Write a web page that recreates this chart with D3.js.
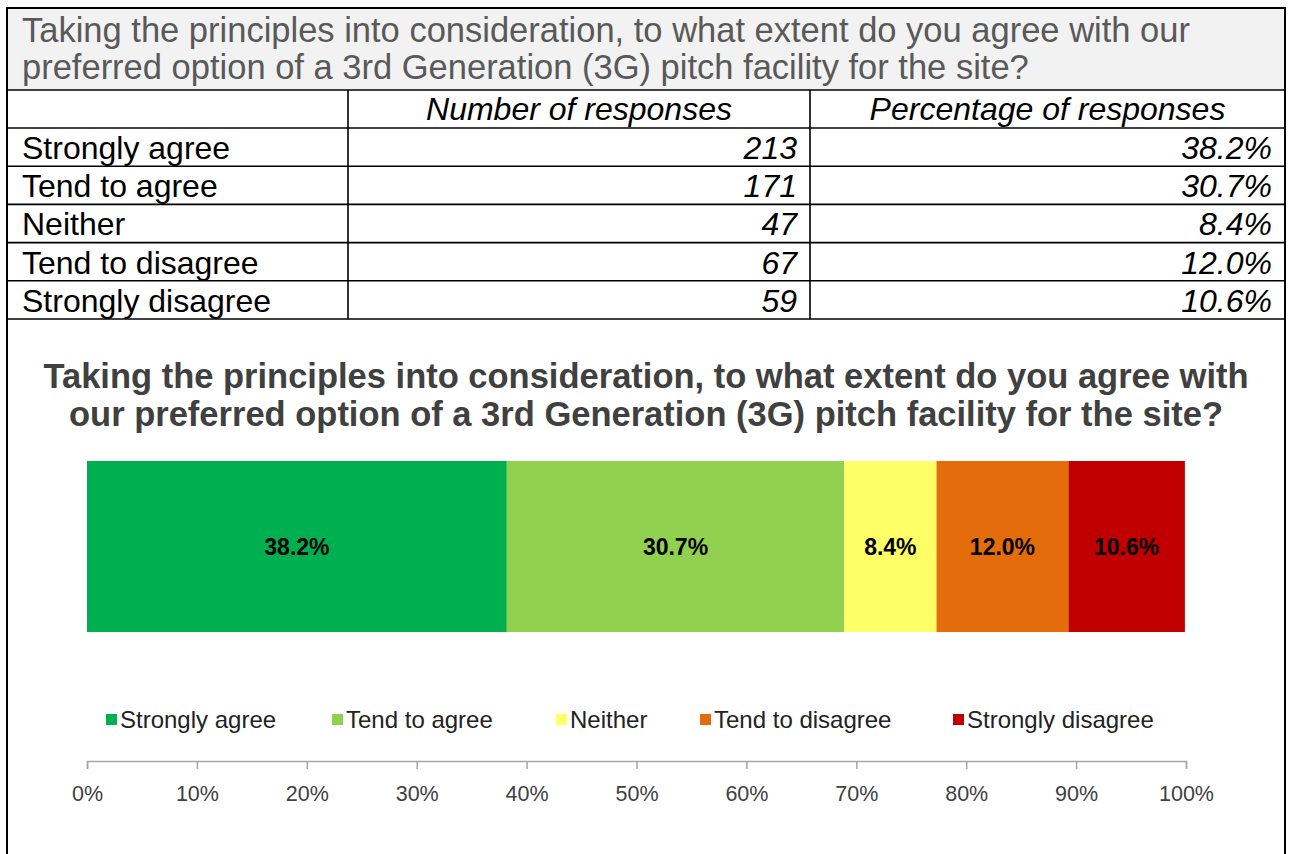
<!DOCTYPE html>
<html>
<head>
<meta charset="utf-8">
<script src="https://cdn.jsdelivr.net/npm/d3@7"></script>
<style>
  body { margin: 0; background: #fff; }
  svg { display: block; font-family: "Liberation Sans", Arial, sans-serif; }
</style>
</head>
<body>
<svg id="chart" width="1291" height="854"></svg>
<script>
// Survey answers, counts and shares as shown in the table
var categories = ['Strongly agree', 'Tend to agree', 'Neither', 'Tend to disagree', 'Strongly disagree'];
var counts = [213, 171, 47, 67, 59];
var percents = [38.2, 30.7, 8.4, 12.0, 10.6];
var colours = ['#00b050', '#92d050', '#ffff66', '#e46c0a', '#c00000'];
var axisTicks = [0, 0.1, 0.2, 0.3, 0.4, 0.5, 0.6, 0.7, 0.8, 0.9, 1];

var question = [
  'Taking the principles into consideration, to what extent do you agree with our',
  'preferred option of a 3rd Generation (3G) pitch facility for the site?'
];
var chartTitle = [
  'Taking the principles into consideration, to what extent do you agree with',
  'our preferred option of a 3rd Generation (3G) pitch facility for the site?'
];
var headers = ['Number of responses', 'Percentage of responses'];

var svg = d3.select('#chart');

/**
 * Table at the top of the page
 */
var left = 7, right = 1285, colA = 348, colB = 810;
var bandTop = 8, bandBottom = 90, headBottom = 128, rowH = 38.2;

var table = svg.append('g');

// grey question band
table.append('rect')
  .attr('x', left).attr('y', bandTop)
  .attr('width', right - left).attr('height', bandBottom - bandTop)
  .attr('fill', '#f2f2f2');

table.selectAll('text.q')
  .data(question)
  .enter().append('text')
  .attr('class', 'q')
  .attr('x', 22)
  .attr('y', function(d, i) { return 42 + i * 37; })
  .attr('font-size', 34.5)
  .attr('fill', '#595959')
  .text(function(d) { return d; });

// header row
table.selectAll('text.h')
  .data(headers)
  .enter().append('text')
  .attr('class', 'h')
  .attr('x', function(d, i) { return i === 0 ? (colA + colB) / 2 : (colB + right) / 2; })
  .attr('y', 120)
  .attr('text-anchor', 'middle')
  .attr('font-size', 32)
  .attr('font-style', 'italic')
  .text(function(d) { return d; });

var rowY = d3.scaleBand()
  .domain(categories)
  .range([headBottom, headBottom + rowH * categories.length]);

var rows = table.selectAll('g.row')
  .data(categories)
  .enter().append('g')
  .attr('class', 'row')
  .attr('transform', function(d) { return 'translate(0,' + rowY(d) + ')'; });

rows.append('text')
  .attr('x', 22).attr('y', 31)
  .attr('font-size', 32)
  .text(function(d) { return d; });

rows.append('text')
  .attr('x', colB - 13).attr('y', 31)
  .attr('text-anchor', 'end')
  .attr('font-size', 32)
  .attr('font-style', 'italic')
  .text(function(d, i) { return counts[i]; });

rows.append('text')
  .attr('x', right - 13).attr('y', 31)
  .attr('text-anchor', 'end')
  .attr('font-size', 32)
  .attr('font-style', 'italic')
  .text(function(d, i) { return percents[i].toFixed(1) + '%'; });

// grid lines of the table
var tableBottom = headBottom + rowH * categories.length;
var hLines = [bandBottom, headBottom].concat(categories.map(function(d) { return rowY(d) + rowH; }));

table.selectAll('line.hl')
  .data(hLines)
  .enter().append('line')
  .attr('x1', left).attr('x2', right)
  .attr('y1', function(d) { return d; }).attr('y2', function(d) { return d; })
  .attr('stroke', '#000').attr('stroke-width', 1.6);

table.selectAll('line.vl')
  .data([colA, colB])
  .enter().append('line')
  .attr('x1', function(d) { return d; }).attr('x2', function(d) { return d; })
  .attr('y1', bandBottom).attr('y2', tableBottom)
  .attr('stroke', '#000').attr('stroke-width', 1.6);

// outer frame, open at the bottom
table.append('path')
  .attr('d', 'M' + left + ',854V' + bandTop + 'H' + right + 'V854')
  .attr('fill', 'none')
  .attr('stroke', '#000')
  .attr('stroke-width', 2);

/**
 * The stacked bar chart below the table
 */
svg.selectAll('text.title')
  .data(chartTitle)
  .enter().append('text')
  .attr('class', 'title')
  .attr('x', 646)
  .attr('y', function(d, i) { return 388 + i * 38; })
  .attr('text-anchor', 'middle')
  .attr('font-size', 34.5)
  .attr('font-weight', 'bold')
  .attr('fill', '#404040')
  .text(function(d) { return d; });

var x = d3.scaleLinear().domain([0, 1]).range([87, 1186]);
var barTop = 461, barBottom = 632;

// cumulative start for each segment
var stack = [];
var acc = 0;
percents.forEach(function(p, i) {
  stack.push({ name: categories[i], start: acc, end: acc + p / 100, pct: p, colour: colours[i] });
  acc += p / 100;
});

var seg = svg.append('g').selectAll('g')
  .data(stack)
  .enter().append('g');

seg.append('rect')
  .attr('x', function(d) { return x(d.start); })
  .attr('y', barTop)
  .attr('width', function(d) { return x(d.end) - x(d.start); })
  .attr('height', barBottom - barTop)
  .attr('fill', function(d) { return d.colour; });

seg.append('text')
  .attr('x', function(d) { return (x(d.start) + x(d.end)) / 2; })
  .attr('y', (barTop + barBottom) / 2 + 8)
  .attr('text-anchor', 'middle')
  .attr('font-size', 23)
  .attr('font-weight', 'bold')
  .attr('fill', '#000')
  .text(function(d) { return d.pct.toFixed(1) + '%'; });

// legend
var legendX = [106, 332, 556, 700, 953];
var legend = svg.append('g').selectAll('g')
  .data(stack)
  .enter().append('g')
  .attr('transform', function(d, i) { return 'translate(' + legendX[i] + ',720)'; });

legend.append('rect')
  .attr('x', 0).attr('y', -6)
  .attr('width', 11).attr('height', 11)
  .attr('fill', function(d) { return d.colour; });

legend.append('text')
  .attr('x', 14).attr('y', 8)
  .attr('font-size', 24)
  .attr('fill', '#222')
  .text(function(d) { return d.name; });

// x axis
var axis = d3.axisBottom(x)
  .tickValues(axisTicks)
  .tickSize(8)
  .tickPadding(17)
  .tickFormat(d3.format('.0%'));

var axisG = svg.append('g')
  .attr('transform', 'translate(0,761)')
  .call(axis);

axisG.select('.domain').attr('stroke', '#a6a6a6').attr('stroke-width', 1.5);
axisG.selectAll('.tick line').attr('stroke', '#a6a6a6').attr('stroke-width', 1.5);
axisG.selectAll('.tick text')
  .attr('font-family', '"Liberation Sans", Arial, sans-serif')
  .attr('font-size', 21.5)
  .attr('fill', '#404040');
</script>
</body>
</html>
